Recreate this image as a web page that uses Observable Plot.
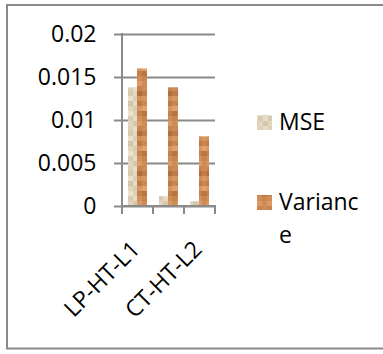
<!DOCTYPE html>
<html><head><meta charset="utf-8">
<script src="https://cdn.jsdelivr.net/npm/d3@7"></script>
<script src="https://cdn.jsdelivr.net/npm/@observablehq/plot@0.6"></script>
<style>
body{margin:0;background:#fff;}
#chart{position:relative;width:383px;height:354px;overflow:hidden;}
#chart svg{display:block;}
</style>
</head><body><div id="chart"></div>
<script>
const categories = ["LP-HT-L1", "CT-HT-L1", "CT-HT-L2"];
const shownLabels = ["LP-HT-L1", "CT-HT-L2"];
const mseValues = [0.0138, 0.00115, 0.00055];
const varianceValues = [0.0160, 0.0138, 0.0081];
const seriesNames = ["MSE", "Variance"];
const yTicks = [0, 0.005, 0.01, 0.015, 0.02];
const yTickLabels = ["0", "0.005", "0.01", "0.015", "0.02"];

const rows = categories.map((c, i) => ({category: c, MSE: mseValues[i], Variance: varianceValues[i]}));
const FONT = "'Open Sans', sans-serif";
const GRID = "#8a8a8a";

const plot = Plot.plot({
  width: 383, height: 354,
  marginLeft: 122, marginRight: 168, marginTop: 34, marginBottom: 148,
  style: {fontFamily: FONT, fontSize: "23px", color: "#000", background: "transparent", overflow: "visible"},
  x: {type: "band", domain: categories, padding: 0, axis: null},
  y: {domain: [0, 0.02], axis: null},
  marks: [
    Plot.gridY(yTicks, {stroke: GRID, strokeOpacity: 1, strokeWidth: 2}),
    Plot.axisY(yTicks, {tickSize: 8, tickPadding: 18, stroke: GRID, strokeWidth: 2, fill: "#000",
      fontSize: 23, tickFormat: d => yTickLabels[yTicks.indexOf(d)]}),
    Plot.barY(rows, {x: "category", y: "MSE", fill: "url(#texMSE)", insetLeft: 6, insetRight: 16}),
    Plot.barY(rows, {x: "category", y: "Variance", fill: "url(#texVar)", insetLeft: 15, insetRight: 6}),
    Plot.text(shownLabels, {x: d => d, frameAnchor: "bottom", rotate: -45, textAnchor: "end",
      lineAnchor: "middle", dx: -2, dy: 39, fontSize: 23, fill: "#000"})
  ]
});

const svg = d3.select(plot);

// texture patterns
const defs = svg.insert("defs", ":first-child");
function addPattern(id, colors, x0) {
  const p = defs.append("pattern").attr("id", id).attr("patternUnits", "userSpaceOnUse")
    .attr("width", 10).attr("height", 40).attr("x", x0).attr("y", 6);
  colors.forEach((row, r) => row.forEach((c, k) => {
    p.append("rect").attr("x", k * 5).attr("y", r * 5).attr("width", 5).attr("height", 5).attr("fill", c);
  }));
}
addPattern("texMSE", [
  ["#ddd1ba","#e6dcc8"],["#d6c9af","#e2d7c2"],["#e8dfcc","#dccfb7"],["#d2c4a9","#e4dac5"],
  ["#e0d5bf","#d9ccb3"],["#eae2d0","#ddd1ba"],["#d7cab0","#e6dcc8"],["#e1d6c0","#d4c7ad"]], 128);
addPattern("texVar", [
  ["#c8844f","#cc8a55"],["#b46d3d","#c27c48"],["#cf8d58","#d8975f"],["#c07a46","#ca8752"],
  ["#d69562","#e0a36e"],["#c5814d","#bb743f"],["#d08f5a","#c8864f"],["#dc9b66","#cf8c57"]], 137);

// axis lines and category boundary ticks from Plot's scales
const xs = plot.scale("x"), ys = plot.scale("y");
const band = d3.scaleBand().domain(xs.domain).range(xs.range).padding(0);
const y0 = ys.apply(0), yTop = ys.apply(d3.max(yTicks));
const axes = svg.append("g").attr("stroke", GRID).attr("stroke-width", 2).attr("fill", "none");
axes.append("line").attr("x1", xs.range[0]).attr("x2", xs.range[0]).attr("y1", yTop - 1).attr("y2", y0);
axes.append("line").attr("x1", xs.range[0]).attr("x2", xs.range[1] + 1).attr("y1", y0).attr("y2", y0);
const bounds = xs.domain.map(c => band(c)).concat([xs.range[1]]);
bounds.forEach(b => axes.append("line").attr("x1", b).attr("x2", b).attr("y1", y0).attr("y2", y0 + 8));

// legend
const legend = svg.append("g").attr("font-family", FONT).attr("font-size", 23).attr("fill", "#000")
  .attr("text-anchor", "start");
const legendItems = [{name: seriesNames[0], fill: "url(#texMSE)", y: 115}, {name: seriesNames[1], fill: "url(#texVar)", y: 195}];
legendItems.forEach(it => {
  legend.append("rect").attr("x", 257).attr("y", it.y).attr("width", 15).attr("height", 15).attr("fill", it.fill);
  const lines = [it.name.slice(0, 7), it.name.slice(7)].filter(s => s.length);
  lines.forEach((s, i) => legend.append("text").attr("x", 279).attr("y", it.y + 15 + i * 33)
    .attr("text-anchor", "start").text(s));
});

// chart border
svg.append("rect").attr("x", 7).attr("y", 5).attr("width", 420).attr("height", 343.5)
  .attr("fill", "none").attr("stroke", GRID).attr("stroke-width", 2);

document.getElementById("chart").appendChild(plot);
</script>
</body></html>
